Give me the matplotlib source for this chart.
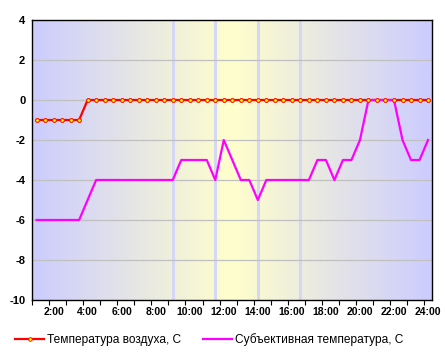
import numpy as np
import matplotlib
matplotlib.use("Agg")
import matplotlib.pyplot as plt
from matplotlib.colors import to_rgb

# half-hour steps, 1:00 .. 24:00
times = ["%d:%02d" % (1 + i // 2, 30 * (i % 2)) for i in range(47)]
air_temp = [-1] * 6 + [0] * 41
feel_temp = ([-6] * 6 + [-5] + [-4] * 10 + [-3] * 4 + [-4, -2, -3, -4, -4, -5]
             + [-4] * 6 + [-3, -3, -4, -3, -3, -2] + [0] * 4 + [-2, -3, -3, -2])
day_marks = ["9:00", "11:30", "14:00", "16:30"]
tick_labels = ["%d:00" % h for h in range(2, 25, 2)]
yticks = list(range(-10, 5, 2))

plt.rcParams["font.family"] = ["Liberation Sans", "DejaVu Sans"]

fig = plt.figure(figsize=(4.45, 3.53), dpi=100)
ax = fig.add_axes([32.3 / 445, 1 - 300 / 353, 400 / 445, 280 / 353])

x = np.arange(len(times))
xmin, xmax = -0.5, len(times) - 0.5

# background gradient lavender -> light yellow -> lavender
edge = np.array(to_rgb("#ccccff"))
mid = np.array(to_rgb("#ffffcc"))
u = np.linspace(0, 1, 400)
t = np.abs(u - 0.5) / 0.5
grad = (mid[None, :] * (1 - t[:, None]) + edge[None, :] * t[:, None])[None, :, :]
ax.imshow(grad, extent=[xmin, xmax, -10, 4], aspect="auto", zorder=0,
          interpolation="bilinear")

for m in day_marks:
    ax.axvline(times.index(m), color="#d6d6f6", lw=2.2, zorder=1)

for yv in yticks[1:-1]:
    ax.axhline(yv, color="#c0c0c0", lw=0.9, zorder=1.5)

ax.plot(x, air_temp, color="red", lw=1.6, marker="o", ms=2.6, mfc="yellow",
        mec="red", mew=0.6, zorder=2, label="Температура воздуха, С")
ax.plot(x, feel_temp, color="magenta", lw=1.6, zorder=3,
        label="Субъективная температура, С")
ax.plot(x, air_temp, ls="none", marker="o", ms=2.6, mfc="yellow", mec="red",
        mew=0.6, zorder=4)

ax.set_xlim(xmin, xmax)
ax.set_ylim(-10, 4)
ax.set_yticks(yticks)
ax.set_yticklabels([str(v) for v in yticks], fontweight="bold", fontsize=8)
ax.tick_params(axis="y", length=0, pad=5)

ax.set_xticks(np.arange(-0.5, len(times) - 1, 2), minor=True)
ax.set_xticks([times.index(l) for l in tick_labels])
ax.set_xticklabels(tick_labels, fontweight="bold", fontsize=7.5)
ax.tick_params(axis="x", which="major", length=0, pad=5)
ax.tick_params(axis="x", which="minor", length=3.5, width=0.8, direction="out")

for s in ax.spines.values():
    s.set_linewidth(1)
    s.set_color("black")

fig.legend(loc="lower left", bbox_to_anchor=(0.01, -0.012), ncol=2, frameon=False,
           fontsize=8.6, handlelength=2.4, columnspacing=1.8, handletextpad=0.3)

fig.savefig("out.png", dpi=100)
